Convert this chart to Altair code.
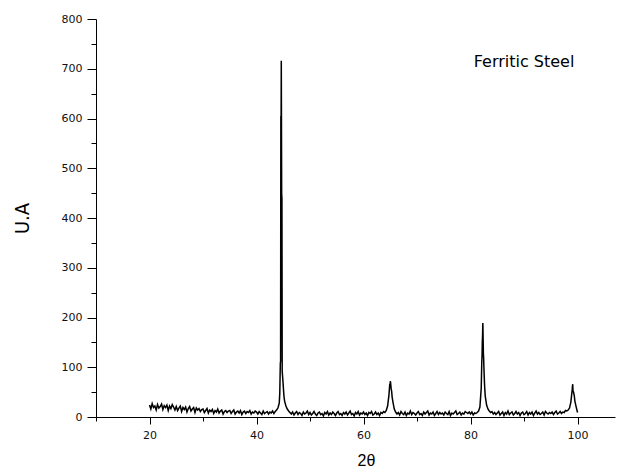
import altair as alt
import numpy as np
import pandas as pd

# ---- data (XRD pattern, Ferritic Steel) ----
start_angle = 20.0
angle_step = 0.25
bg_counts = (
    [24, 16, 27, 19, 22, 14, 25, 18, 21, 26, 15, 23, 19, 24, 13, 22, 17, 25, 20, 14]   # 20-24.75
    + [21, 13, 18, 22, 11, 19, 15, 20, 10, 17, 21, 12, 16, 19, 9, 18, 14, 17, 11, 15]  # 25-
    + [16, 9, 13, 17, 8, 14, 11, 15, 7, 13, 10, 16, 8, 12, 14, 6, 11, 13, 9, 12]       # 30-
    + [13, 7, 11, 14, 6, 10, 12, 8, 13, 5, 10, 12, 7, 11, 9, 13, 6, 10, 8, 12]         # 35-
    + [10, 6, 11, 8, 5, 12, 7, 9, 11, 6, 10, 8, 12, 7, 11, 14, 18, 28, 112, 440]       # 40-
    + [62, 32, 22, 16, 12, 9, 6, 10, 4, 8, 11, 5, 9, 7, 3, 10, 6, 8, 12, 5]            # 45-
    + [9, 4, 7, 11, 6, 3, 8, 10, 5, 7, 2, 9, 6, 11, 4, 8, 5, 10, 7, 3]                 # 50-
    + [8, 11, 5, 7, 3, 9, 6, 10, 4, 8, 12, 5, 7, 2, 9, 6, 11, 4, 8, 6]                 # 55-
    + [10, 5, 8, 3, 9, 7, 11, 4, 6, 10, 5, 8, 3, 9, 7, 11, 9, 13, 22, 44]              # 60-
    + [72, 52, 30, 16, 10, 6, 9, 4, 11, 7, 5, 10, 3, 8, 6, 12, 5, 9, 7, 4]             # 65-
    + [8, 11, 5, 7, 3, 10, 6, 9, 12, 4, 8, 6, 10, 3, 7, 11, 5, 9, 6, 8]                # 70-
    + [4, 10, 7, 5, 11, 3, 8, 6, 9, 12, 5, 7, 10, 4, 8, 6, 11, 9, 7, 10]               # 75-
    + [6, 10, 4, 8, 7, 9, 12, 20, 58, 165, 100, 42, 24, 16, 12, 9, 11, 6, 9, 5]        # 80-
    + [8, 11, 4, 7, 10, 3, 9, 6, 12, 5, 8, 10, 4, 7, 11, 6, 9, 3, 8, 10]               # 85-
    + [5, 7, 11, 4, 9, 6, 10, 3, 8, 12, 6, 9, 5, 7, 10, 4, 11, 8, 6, 9]                # 90-
    + [7, 10, 5, 9, 12, 6, 8, 11, 7, 10, 9, 13, 12, 14, 18, 30, 55, 50, 32, 20]        # 95-
    + [9]                                                                              # 100
)

peak_theta = [44.35, 44.45, 44.55, 44.60, 44.63, 44.70, 44.80, 44.90, 45.10, 45.15,
              64.85, 64.90, 64.95, 65.05, 65.10, 65.15, 65.35,
              82.10, 82.15, 82.20, 82.30, 82.35, 82.40, 82.45, 82.60, 82.65,
              99.05, 99.10, 99.15, 99.35, 99.40]
peak_counts = [48, 108, 604, 606, 716, 448, 92, 78, 46, 40,
               58, 66, 60, 70, 64, 58, 40,
               110, 122, 150, 189, 160, 128, 118, 70, 58,
               62, 66, 52, 45, 42]

label_text = ["Ferritic Steel"]
label_theta = [90.0]
label_counts = [714]

x_major = [20, 40, 60, 80, 100]
x_minor = [10, 30, 50, 70, 90]
y_major = [0, 100, 200, 300, 400, 500, 600, 700, 800]
y_minor = [50, 150, 250, 350, 450, 550, 650, 750]

# ---- build tables ----
bg_theta = start_angle + angle_step * np.arange(len(bg_counts))
df = pd.DataFrame({
    "theta": np.concatenate([bg_theta, np.array(peak_theta)]),
    "counts": list(bg_counts) + list(peak_counts),
}).sort_values("theta").reset_index(drop=True)

lab = pd.DataFrame({"theta": label_theta, "counts": label_counts, "text": label_text})

xs = alt.Scale(domain=[10, 107.0], nice=False, zero=False)
ys = alt.Scale(domain=[0, 800], nice=False, zero=True)

LABEL_FONT = "DejaVu Sans"
TITLE_FONT = "Liberation Sans Narrow, DejaVu Sans Condensed, Liberation Sans, Arial"

common = dict(grid=False, domainColor="black", tickColor="black", labelColor="#111111",
              labelFont=LABEL_FONT, labelFontSize=11, domainWidth=1, tickWidth=1)

line = alt.Chart(df).mark_line(color="black", strokeWidth=1.5).encode(
    x=alt.X("theta:Q", scale=xs, axis=alt.Axis(
        orient="bottom", values=x_major, format="d", tickSize=7, labelPadding=5,
        title="2θ", titleFont="Liberation Sans, Arial", titleFontSize=16,
        titleFontWeight="normal", titleColor="black",
        titleX=270, titleY=43, titleAlign="center", titleBaseline="middle", **common)),
    y=alt.Y("counts:Q", scale=ys, axis=alt.Axis(
        orient="left", values=y_major, format="d", tickSize=9, labelPadding=5,
        title="U.A", titleFont=TITLE_FONT, titleFontSize=20,
        titleFontWeight="normal", titleColor="black",
        titleX=-74, titleY=199, titleAlign="center", titleBaseline="middle", **common)),
)

text = alt.Chart(lab).mark_text(font="DejaVu Sans", fontSize=16, align="center",
                                baseline="middle", color="black").encode(
    x=alt.X("theta:Q", scale=xs, axis=alt.Axis(
        orient="bottom", values=x_minor, tickSize=4, labels=False, domain=False,
        title=None, grid=False, tickColor="black", tickWidth=1)),
    y=alt.Y("counts:Q", scale=ys, axis=alt.Axis(
        orient="left", values=y_minor, tickSize=5, labels=False, domain=False,
        title=None, grid=False, tickColor="black", tickWidth=1)),
    text="text:N",
)

chart = alt.layer(line, text).resolve_axis(x="independent", y="independent").properties(
    width=519, height=398,
    autosize=alt.AutoSizeParams(type="none"),
    padding={"left": 88, "top": 11, "right": 2, "bottom": 50},
    background="white",
).configure_view(stroke=None)

chart.save("out.html", embed_options={"renderer": "svg", "actions": False})
